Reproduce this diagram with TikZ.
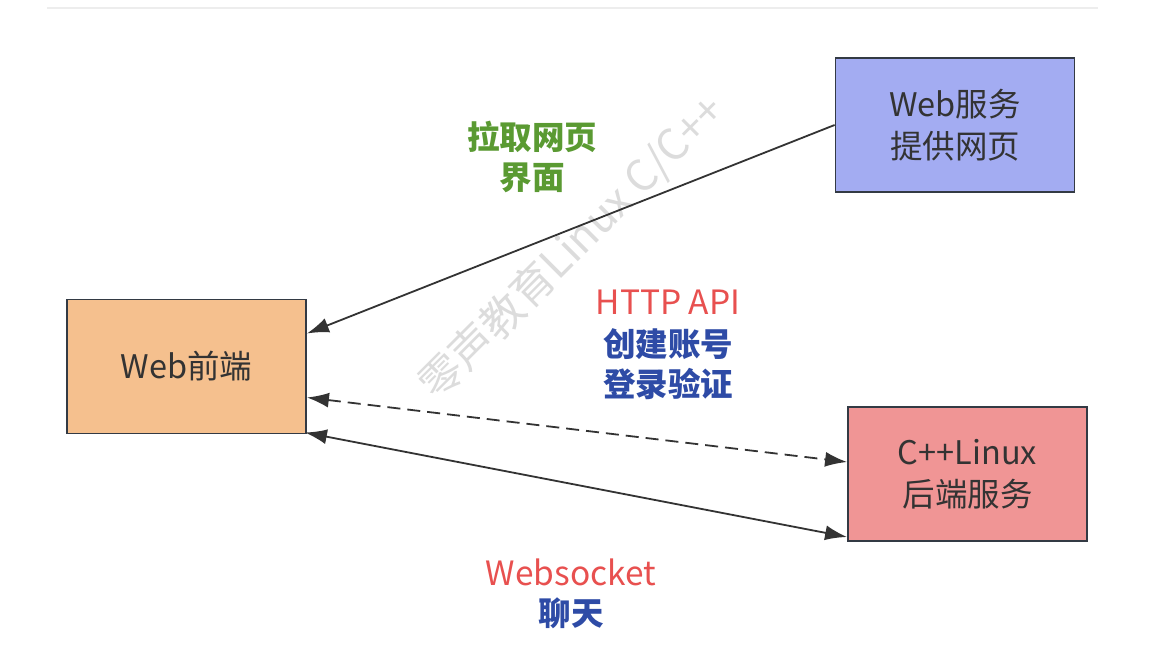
\documentclass[tikz,border=0pt]{standalone}
\usepackage{fontspec}
\setmainfont{Noto Sans CJK SC}
\usetikzlibrary{arrows.meta}
\definecolor{boxline}{HTML}{333A44}
\definecolor{webfill}{HTML}{A3ACF2}
\definecolor{frontfill}{HTML}{F5C08E}
\definecolor{backfill}{HTML}{F09595}
\definecolor{txtgray}{HTML}{333333}
\definecolor{lblgreen}{HTML}{5A9A32}
\definecolor{lblred}{HTML}{E8504F}
\definecolor{lblblue}{HTML}{2E4BA6}
\definecolor{wmark}{HTML}{DCDCDC}
\tikzset{
  box/.style={draw=boxline, line width=1.8pt, minimum width=239pt, minimum height=134pt,
    inner sep=0pt, align=center, text=txtgray, font=\fontsize{32.5}{42}\selectfont},
  tip/.style={Latex[length=22pt,width=15pt]},
  conn/.style={draw=black!80, line width=1.8pt, -{Latex[length=22pt,width=15pt]}},
  conn2/.style={draw=black!80, line width=1.8pt, {Latex[length=22pt,width=15pt]}-{Latex[length=22pt,width=15pt]}},
  lbl/.style={align=center, inner sep=0pt, font=\fontsize{33.5}{40}\selectfont},
  blbl/.style={align=center, inner sep=0pt, font=\fontsize{32.5}{40}\selectfont\bfseries},
}
\begin{document}
\begin{tikzpicture}[x=1pt,y=-1pt]
\useasboundingbox[fill=white] (0,0) rectangle (1173,669);
\coordinate (tl) at (47,8);
\coordinate (tr) at (1098,8);
\draw[line width=2pt, draw=black!7] (tl) -- (tr);
% watermark
\node[rotate=45, text=wmark, font=\fontsize{43}{43}\selectfont, inner sep=0pt] (wm) at (572,248) {零声教育Linux C/C++};
% boxes
\node[box, fill=webfill] (web) at (955,125) {Web服务\\提供网页};
\node[box, fill=frontfill] (front) at (186.5,366.5) {Web前端};
\node[box, fill=backfill] (back) at (967.5,474) {C++Linux\\后端服务};
% connectors
\draw[conn] (web.west) -- ([yshift=33pt]front.east);
\draw[conn2, dash pattern=on 13pt off 7pt] ([yshift=-31pt]front.east) -- ([yshift=12pt]back.west);
\draw[conn2] ([xshift=-2pt,yshift=-66pt]front.east) -- ([yshift=-63pt]back.west);
% labels
\node[blbl, text=lblgreen] (l1) at (532,157) {拉取网页\\界面};
\node[lbl, text=lblred] (l2) at (668,302) {HTTP API};
\node[blbl, text=lblblue] (l3) at (668,364) {创建账号\\登录验证};
\node[lbl, text=lblred] (l4) at (571,572) {Websocket};
\node[blbl, text=lblblue] (l5) at (571,613) {聊天};
\end{tikzpicture}
\end{document}
